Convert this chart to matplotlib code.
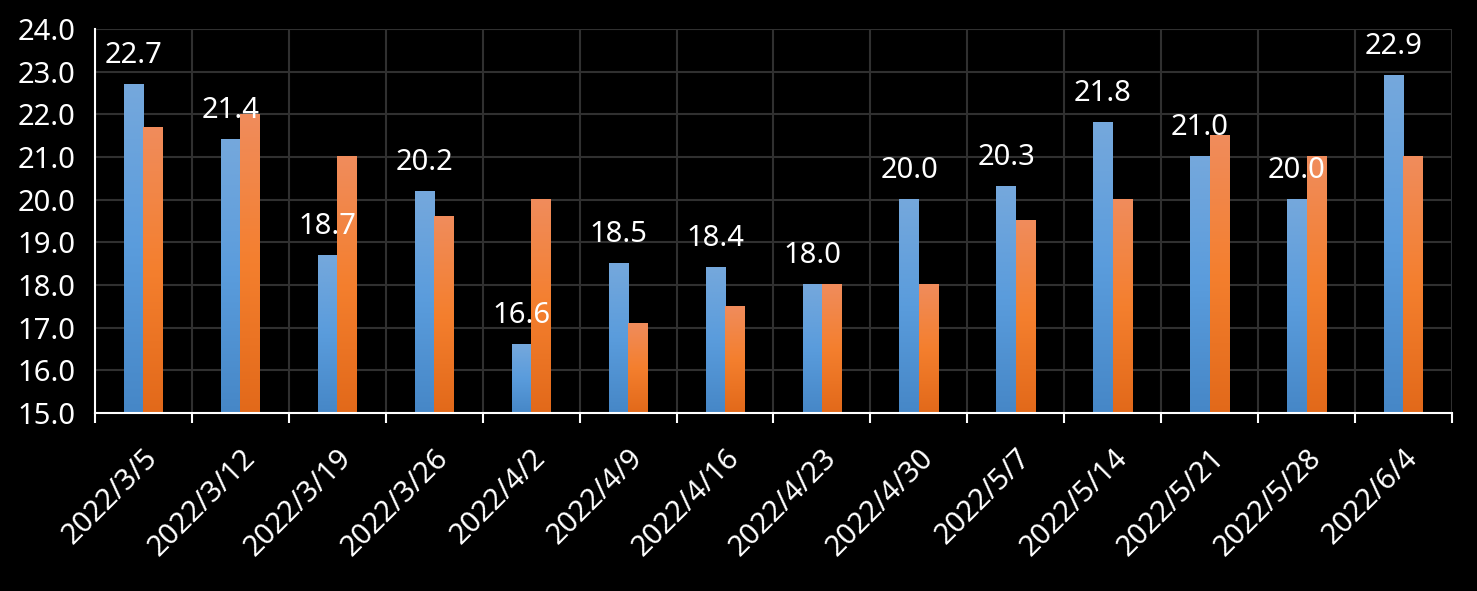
import numpy as np
import matplotlib
matplotlib.use("Agg")
import matplotlib.pyplot as plt
from matplotlib.colors import LinearSegmentedColormap

categories = ["2022/3/5", "2022/3/12", "2022/3/19", "2022/3/26", "2022/4/2",
              "2022/4/9", "2022/4/16", "2022/4/23", "2022/4/30", "2022/5/7",
              "2022/5/14", "2022/5/21", "2022/5/28", "2022/6/4"]
series_blue = [22.7, 21.4, 18.7, 20.2, 16.6, 18.5, 18.4, 18.0, 20.0, 20.3, 21.8, 21.0, 20.0, 22.9]
series_orange = [21.7, 22.0, 21.0, 19.6, 20.0, 17.1, 17.5, 18.0, 18.0, 19.5, 20.0, 21.5, 21.0, 21.0]
y_ticks = [15.0, 16.0, 17.0, 18.0, 19.0, 20.0, 21.0, 22.0, 23.0, 24.0]

plt.rcParams['font.family'] = ['Noto Sans', 'DejaVu Sans']
FS = 21

fig = plt.figure(figsize=(14.77, 5.91), dpi=100, facecolor='black')
ax = fig.add_axes([0.0643, 0.3012, 0.9187, 0.6498], facecolor='black')

x = np.arange(len(categories))
w = 0.2
blue_cmap = LinearSegmentedColormap.from_list('b', ['#4687C7', '#5A9CDC', '#75A8DC'])
orange_cmap = LinearSegmentedColormap.from_list('o', ['#E2691A', '#F47F2E', '#F08C5C'])
grad = np.linspace(0, 1, 256).reshape(-1, 1)

ymin = 15.0
bars_b = ax.bar(x - w / 2, np.array(series_blue) - ymin, w, bottom=ymin, color='none', zorder=3)
bars_o = ax.bar(x + w / 2, np.array(series_orange) - ymin, w, bottom=ymin, color='none', zorder=3)
for bars, cmap in ((bars_b, blue_cmap), (bars_o, orange_cmap)):
    for b in bars:
        x0, y0 = b.get_x(), b.get_y()
        ax.imshow(grad, cmap=cmap, origin='lower', aspect='auto',
                  extent=(x0, x0 + b.get_width(), y0, y0 + b.get_height()), zorder=3)

for xi, v in zip(x, series_blue):
    ax.annotate(f"{v:.1f}", (xi - w / 2, v), xytext=(0, 10.5), textcoords='offset points',
                ha='center', va='bottom', color='white', fontsize=FS, zorder=5)

ax.set_xlim(-0.5, len(categories) - 0.5)
ax.set_ylim(15, 24)
ax.set_yticks(y_ticks)
ax.set_yticklabels([f"{t:.1f}" for t in y_ticks], color='white', fontsize=FS)
ax.set_xticks(np.arange(-0.5, len(categories)), minor=False)
ax.set_xticklabels([])
ax.set_xticks(x, minor=True)
ax.set_xticklabels(categories, minor=True, rotation=45, ha='right', rotation_mode='anchor',
                   color='white', fontsize=FS)
ax.tick_params(axis='x', which='major', direction='out', length=7, width=1.5, color='white')
ax.tick_params(axis='x', which='minor', length=0, pad=22)
ax.tick_params(axis='y', length=0, pad=14)

ax.grid(True, which='major', color='#303030', linewidth=1.5, zorder=0)
ax.set_axisbelow(True)
for s in ['top', 'right']:
    ax.spines[s].set_visible(False)
for s in ['left', 'bottom']:
    ax.spines[s].set_color('white')
    ax.spines[s].set_linewidth(1.5)
    ax.spines[s].set_zorder(4)

fig.savefig('out.png', dpi=100, facecolor='black')
